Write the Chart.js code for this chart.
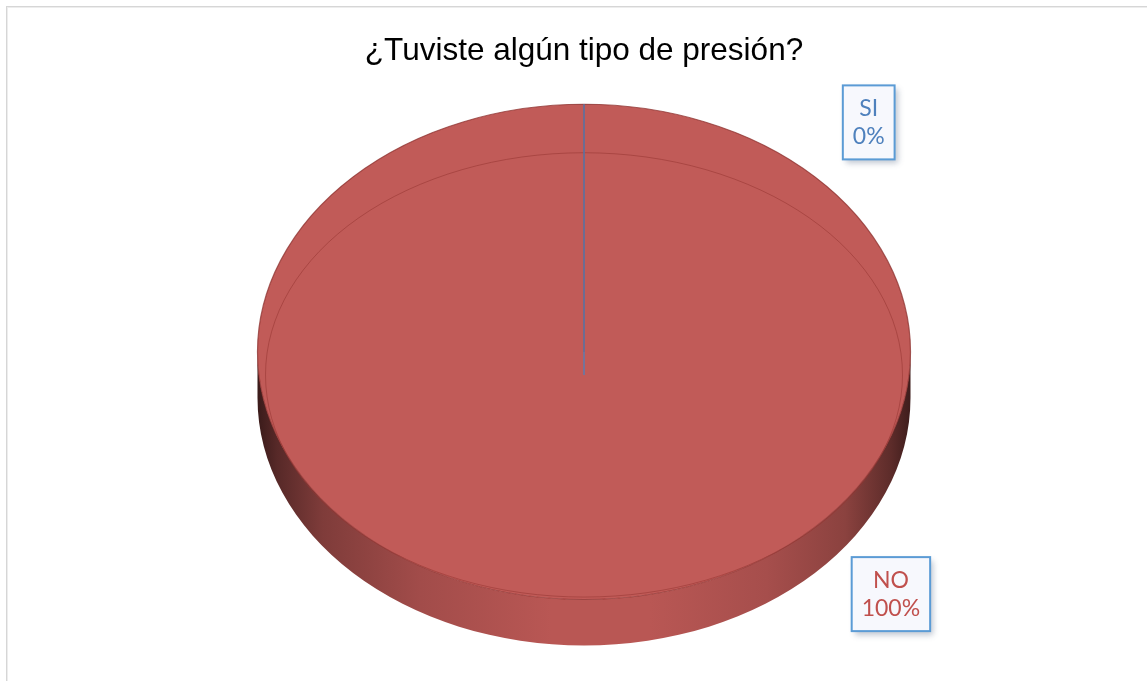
<!DOCTYPE html>
<html>
<head>
<meta charset="utf-8">
<script src="https://cdn.jsdelivr.net/npm/chart.js@4"></script>
<style>
  html, body { margin: 0; padding: 0; background: #fff; overflow: hidden; }
  #frame { position: absolute; left: 6px; top: 6px; width: 1200px; height: 720px;
           border: 1px solid #d6d6d6; box-shadow: inset 1px 1px 0 #ededed; }
  #chart { position: absolute; left: 0; top: 0; }
</style>
</head>
<body>
<div id="frame"></div>
<canvas id="chart" width="1147" height="681"></canvas>
<script>
/* 3D-looking pie: ¿Tuviste algún tipo de presión? */
const TITLE = "¿Tuviste algún tipo de presión?";
const CATEGORIES = ["SI", "NO"];
const VALUES = [0, 100];
const SLICE_COLORS = ["#4f81bd", "#c15b58"];
const LABEL_COLORS = ["#4f81bd", "#c0504d"];

const hexRgb = (h) => [1, 3, 5].map((i) => parseInt(h.slice(i, i + 2), 16));
const shade = (h, f) => "rgb(" + hexRgb(h).map((c) => Math.round(c * f)).join(",") + ")";

// geometry of the tilted face, derived from the arc element the library laid out
function faceOf(arc, o) {
  const r = arc.outerRadius;
  return { cx: arc.x, cy: arc.y - (o.depth * r) / 2, rx: r * o.sx, ry: r * o.sy, d: o.depth * r, r };
}

const pie3d = {
  id: "pie3d",
  beforeDatasetsDraw(chart, args, o) {
    const ctx = chart.ctx;
    const arcs = chart.getDatasetMeta(0).data;
    if (!arcs.length) return;
    // side walls (front half only)
    arcs.forEach((arc, i) => {
      const g = faceOf(arc, o);
      const grad = ctx.createLinearGradient(g.cx - g.rx, 0, g.cx + g.rx, 0);
      const col = SLICE_COLORS[i];
      [[0, 0.3], [0.03, 0.45], [0.1, 0.66], [0.25, 0.84], [0.45, 0.96], [0.6, 0.96],
       [0.78, 0.86], [0.9, 0.72], [0.97, 0.48], [1, 0.32]].forEach(([p, f]) => grad.addColorStop(p, shade(col, f)));
      for (const k of [-2, 0, 2]) {
        const s = Math.max(arc.startAngle + k * Math.PI, 0);
        const e = Math.min(arc.endAngle + k * Math.PI, Math.PI);
        if (e <= s) continue;
        ctx.beginPath();
        ctx.moveTo(g.cx + g.rx * Math.cos(s), g.cy + g.ry * Math.sin(s));
        ctx.ellipse(g.cx, g.cy + g.d, g.rx, g.ry, 0, s, e);
        ctx.ellipse(g.cx, g.cy, g.rx, g.ry, 0, e, s, true);
        ctx.closePath();
        ctx.fillStyle = grad;
        ctx.fill();
      }
    });
    // squash the library's own circle into the tilted top face
    const a = arcs[0], g = faceOf(a, o);
    ctx.save();
    ctx.translate(g.cx, g.cy);
    ctx.scale(o.sx, o.sy);
    ctx.translate(-a.x, -a.y);
  },
  afterDatasetsDraw(chart, args, o) {
    const ctx = chart.ctx;
    ctx.restore();
    const arcs = chart.getDatasetMeta(0).data;
    if (!arcs.length) return;
    const a = arcs[0], g = faceOf(a, o);
    // bevel rim line
    ctx.save();
    ctx.beginPath();
    ctx.ellipse(a.x, a.y, g.r * o.bx, g.r * o.by, 0, 0, Math.PI * 2);
    ctx.strokeStyle = "rgba(150,52,50,0.55)";
    ctx.lineWidth = 1;
    ctx.stroke();
    // zero-size slices show up as a thin edge line
    arcs.forEach((arc, i) => {
      if (arc.endAngle - arc.startAngle > 0.0001) return;
      ctx.beginPath();
      ctx.moveTo(g.cx + g.rx * Math.cos(arc.startAngle), g.cy + g.ry * Math.sin(arc.startAngle));
      ctx.lineTo(a.x, a.y);
      ctx.strokeStyle = SLICE_COLORS[i];
      ctx.globalAlpha = 0.65;
      ctx.lineWidth = 2;
      ctx.stroke();
      ctx.globalAlpha = 1;
    });
    ctx.restore();
    // boxed data labels
    const total = VALUES.reduce((s, v) => s + v, 0);
    ctx.save();
    ctx.font = "23px Lato, 'Open Sans', sans-serif";
    ctx.textAlign = "center";
    arcs.forEach((arc, i) => {
      const lines = [CATEGORIES[i], Math.round((VALUES[i] / total) * 100) + "%"];
      const w = Math.max(...lines.map((t) => ctx.measureText(t).width)) + 2 * o.padX;
      const h = lines.length * o.lineH + 2 * o.padY;
      const [fx, fy] = o.labelAt[i];
      const bx = g.cx + fx * g.rx - w / 2, by = g.cy + fy * g.ry - h / 2;
      ctx.save();
      ctx.shadowColor = "rgba(70,90,120,0.35)";
      ctx.shadowBlur = 6;
      ctx.shadowOffsetX = 3;
      ctx.shadowOffsetY = 4;
      ctx.fillStyle = "#f7f8fd";
      ctx.fillRect(bx, by, w, h);
      ctx.restore();
      ctx.strokeStyle = "#5b9bd5";
      ctx.lineWidth = 2;
      ctx.strokeRect(bx, by, w, h);
      ctx.fillStyle = LABEL_COLORS[i];
      lines.forEach((t, j) => ctx.fillText(t, bx + w / 2, by + o.padY + j * o.lineH + o.lineH / 2 + 8));
    });
    ctx.restore();
  },
};

new Chart(document.getElementById("chart"), {
  type: "pie",
  data: {
    labels: CATEGORIES,
    datasets: [{
      data: VALUES,
      backgroundColor: SLICE_COLORS,
      borderColor: "rgba(140,48,46,0.75)",
      borderWidth: 1,
      clip: false,
    }],
  },
  options: {
    responsive: false,
    devicePixelRatio: 1,
    animation: false,
    events: [],
    layout: { padding: { left: 21, right: 0, top: 0, bottom: 35 } },
    plugins: {
      legend: { display: false },
      tooltip: { enabled: false },
      title: {
        display: true, text: TITLE, color: "#000",
        font: { family: "'Liberation Sans', Arial, sans-serif", size: 31.5, weight: "normal" },
        padding: { top: 32, bottom: 34 },
      },
      pie3d: { sx: 1.2066, sy: 0.9151, depth: 0.1697, bx: 1.177, by: 0.821,
               padX: 10, padY: 9, lineH: 28,
               labelAt: [[0.872, -0.927], [0.94, 0.978]] },
    },
  },
  plugins: [pie3d],
});
</script>
</body>
</html>
